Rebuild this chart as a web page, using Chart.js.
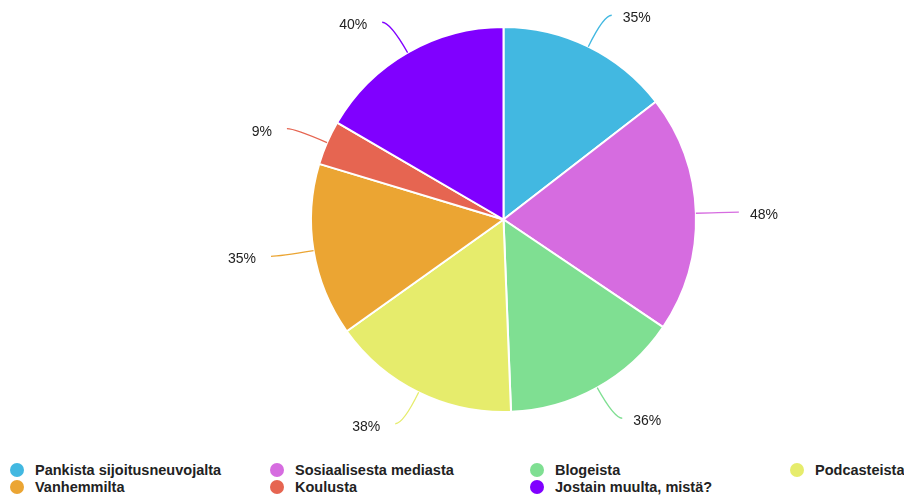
<!DOCTYPE html>
<html>
<head>
<meta charset="utf-8">
<script src="https://cdn.jsdelivr.net/npm/chart.js@4/dist/chart.umd.min.js"></script>
<style>
  body { margin: 0; background: #fff; font-family: "Liberation Sans", Arial, sans-serif; }
  #wrap { position: relative; width: 904px; height: 450px; }
  #legend { position: relative; width: 904px; height: 49px; }
  .item { position: absolute; font-size: 14.5px; font-weight: bold; color: #222; line-height: 16px; white-space: nowrap; }
  .dot { display: inline-block; width: 14px; height: 14px; border-radius: 50%; vertical-align: -2px; margin-right: 11px; }
</style>
</head>
<body>
<div id="wrap"><canvas id="pie"></canvas></div>
<div id="legend"></div>
<script>
const labels = [
  "Pankista sijoitusneuvojalta",
  "Sosiaalisesta mediasta",
  "Blogeista",
  "Podcasteista",
  "Vanhemmilta",
  "Koulusta",
  "Jostain muulta, mistä?",
];
const values = [35, 48, 36, 38, 35, 9, 40];
const colors = ["#42b8e1", "#d66ce0", "#7fdf92", "#e6ec6c", "#eba533", "#e66551", "#8000ff"];

// legend grid: four columns, two rows
const legendPos = [
  [10, 12], [270, 12], [530, 12], [790, 12],
  [10, 29], [270, 29], [530, 29],
];
const legendEl = document.getElementById("legend");
labels.forEach((name, i) => {
  const el = document.createElement("div");
  el.className = "item";
  el.style.left = legendPos[i][0] + "px";
  el.style.top = legendPos[i][1] + "px";
  el.innerHTML = `<span class="dot" style="background:${colors[i]}"></span>${name}`;
  legendEl.appendChild(el);
});

// percentage labels with curved leader lines
const calloutPlugin = {
  id: "callouts",
  afterDatasetsDraw(chart) {
    const ctx = chart.ctx;
    const meta = chart.getDatasetMeta(0);
    ctx.save();
    ctx.font = "14px 'Liberation Sans', Arial, sans-serif";
    ctx.fillStyle = "#222";
    ctx.textBaseline = "middle";
    meta.data.forEach((arc, i) => {
      const { x, y, startAngle, endAngle, outerRadius } = arc.getProps(
        ["x", "y", "startAngle", "endAngle", "outerRadius"], true);
      const mid = (startAngle + endAngle) / 2;
      const cos = Math.cos(mid), sin = Math.sin(mid);
      const side = cos >= 0 ? 1 : -1;
      const r0 = outerRadius;
      const r1 = outerRadius + 35;
      const sx = x + cos * r0, sy = y + sin * r0;
      const cx = x + cos * r1, cy = y + sin * r1;
      const ex = cx + side * 8, ey = cy;
      ctx.strokeStyle = colors[i];
      ctx.lineWidth = 1.3;
      ctx.beginPath();
      ctx.moveTo(sx, sy);
      ctx.quadraticCurveTo(cx, cy, ex, ey);
      ctx.stroke();
      ctx.textAlign = side > 0 ? "left" : "right";
      ctx.fillText(values[i] + "%", ex + side * (side > 0 ? 11 : 15), ey + 3);
    });
    ctx.restore();
  },
};

new Chart(document.getElementById("pie"), {
  type: "pie",
  data: {
    labels,
    datasets: [{
      data: values,
      backgroundColor: colors,
      borderColor: "#fff",
      borderWidth: 2,
    }],
  },
  options: {
    responsive: true,
    maintainAspectRatio: false,
    animation: false,
    layout: { padding: { top: 26, bottom: 37, left: 103, right: 0 } },
    plugins: { legend: { display: false }, tooltip: { enabled: false } },
  },
  plugins: [calloutPlugin],
});
</script>
</body>
</html>
